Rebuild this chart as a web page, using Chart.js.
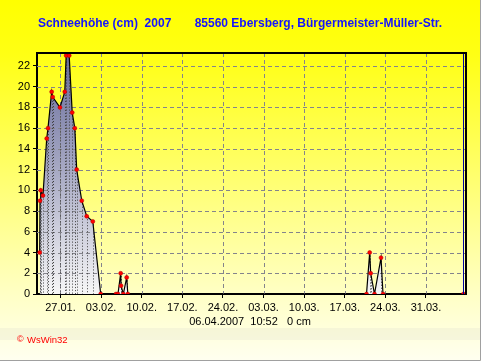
<!DOCTYPE html>
<html>
<head>
<meta charset="utf-8">
<script src="https://cdn.jsdelivr.net/npm/chart.js@4/dist/chart.umd.min.js"></script>
<style>
	html, body { margin: 0; padding: 0; background: #fff; }
	#wrap { width: 481px; height: 361px; }
</style>
</head>
<body>
<div id="wrap"><canvas id="chart" width="481" height="361"></canvas></div>
<script>
// Schneehöhe Ebersberg 2007
const titleText = "Schneehöhe (cm)  2007       85560 Ebersberg, Bürgermeister-Müller-Str.";
const footerText = "06.04.2007  10:52   0 cm";
const creditText = "WsWin32";

const tickDates = ["27.01.", "03.02.", "10.02.", "17.02.", "24.02.", "03.03.", "10.03.", "17.03.", "24.03.", "31.03."];
const yTickValues = [0, 2, 4, 6, 8, 10, 12, 14, 16, 18, 20, 22];
const axisStart = "22.01. 22:50";
const axisEnd = "06.04. 21:35";
const nowTime = "06.04. 10:52";

const readTimes = [
	"23.01. 10:00", "23.01. 11:20", "23.01. 14:10", "23.01. 23:30", "24.01. 15:00", "24.01. 20:20",
	"25.01. 11:30", "25.01. 15:50", "26.01. 21:50", "27.01. 17:45", "27.01. 23:30", "28.01. 12:00",
	"29.01. 00:30", "29.01. 11:15", "29.01. 19:00", "30.01. 16:00", "31.01. 12:30", "01.02. 13:40", "02.02. 22:20",
	"05.02. 13:40", "05.02. 21:50", "06.02. 09:00", "06.02. 10:30", "06.02. 20:00", "07.02. 09:50", "07.02. 14:30",
	"20.03. 18:00", "21.03. 07:10", "21.03. 11:15", "22.03. 03:00", "23.03. 06:00", "23.03. 14:10",
	"06.04. 10:52"
];
const snowCm = [
	4, 9, 10, 9.5, 15, 16,
	19.5, 19, 18, 19.5, 23, 23,
	17.5, 16, 12, 9, 7.5, 7, 0,
	0, 0, 2, 0.8, 0, 1.6, 0,
	0, 4, 2, 0, 3.5, 0,
	0
];

// "dd.mm. hh:mm" -> day of year 2007 (decimal)
const monthStart = [0, 31, 59, 90];
const toDay = (s) => {
	const [datePart, timePart] = s.split(" ");
	const [d, m] = datePart.split(".");
	let day = monthStart[parseInt(m, 10) - 1] + parseInt(d, 10);
	if (timePart) {
		const [hh, mm] = timePart.split(":");
		day += parseInt(hh, 10) / 24 + parseInt(mm, 10) / 1440;
	}
	return day;
};

const points = readTimes.map((t, i) => ({x: toDay(t), y: snowCm[i]}));
const tickDays = tickDates.map((t) => toDay(t));

const FONT = "'Liberation Sans', Arial, sans-serif";

// page background, band and frame of the picture
const backgroundPlugin = {
	id: "background",
	beforeDraw(chart) {
		const {ctx, width, height} = chart;
		ctx.save();
		const g = ctx.createLinearGradient(0, 0, 0, height);
		g.addColorStop(0, "#ffff00");
		g.addColorStop(0.15, "#ffff14");
		g.addColorStop(0.82, "#ffffc6");
		g.addColorStop(1, "#fffff0");
		ctx.fillStyle = g;
		ctx.fillRect(0, 0, width, height);
		ctx.fillStyle = "rgba(225,225,205,0.3)";
		ctx.fillRect(0, 328, width, 12);
		ctx.strokeStyle = "#a0a0a0";
		ctx.lineWidth = 1;
		ctx.beginPath();
		ctx.moveTo(width - 0.5, 0);
		ctx.lineTo(width - 0.5, height - 0.5);
		ctx.lineTo(0, height - 0.5);
		ctx.stroke();
		ctx.restore();
	}
};

// dashed grid over the fill, then dotted drop lines for every reading
const dropPlugin = {
	id: "drops",
	beforeDatasetDraw(chart) {
		const {ctx, chartArea} = chart;
		const xs = chart.scales.x;
		const ys = chart.scales.y;
		ctx.save();
		ctx.beginPath();
		ctx.rect(chartArea.left, chartArea.top, chartArea.width, chartArea.height);
		ctx.clip();
		ctx.strokeStyle = "#84848c";
		ctx.lineWidth = 1;
		ctx.setLineDash([4, 3]);
		ctx.beginPath();
		for (const d of tickDays) {
			const px = Math.round(xs.getPixelForValue(d)) + 0.5;
			ctx.moveTo(px, chartArea.top);
			ctx.lineTo(px, chartArea.bottom);
		}
		for (const v of yTickValues) {
			if (v === 0) continue;
			const py = Math.round(ys.getPixelForValue(v)) + 0.5;
			ctx.moveTo(chartArea.left, py);
			ctx.lineTo(chartArea.right, py);
		}
		ctx.stroke();

		const meta = chart.getDatasetMeta(0);
		const base = ys.getPixelForValue(0);
		ctx.strokeStyle = "#3c3c3c";
		ctx.setLineDash([1, 2]);
		ctx.beginPath();
		meta.data.forEach((pt, i) => {
			if (!snowCm[i]) return;
			const px = Math.round(pt.x) + 0.5;
			ctx.moveTo(px, pt.y);
			ctx.lineTo(px, base);
		});
		ctx.stroke();
		ctx.restore();
	}
};

// top/right frame, current time marker and all texts
const textPlugin = {
	id: "texts",
	afterDraw(chart) {
		const {ctx, chartArea} = chart;
		const xs = chart.scales.x;
		ctx.save();
		const nx = Math.round(xs.getPixelForValue(toDay(nowTime))) + 0.5;
		ctx.strokeStyle = "#0000a0";
		ctx.lineWidth = 1;
		ctx.beginPath();
		ctx.moveTo(nx, chartArea.top);
		ctx.lineTo(nx, chartArea.bottom);
		ctx.stroke();

		ctx.strokeStyle = "#000";
		ctx.lineWidth = 2;
		ctx.beginPath();
		ctx.moveTo(chartArea.left, chartArea.top);
		ctx.lineTo(chartArea.right, chartArea.top);
		ctx.lineTo(chartArea.right, chartArea.bottom);
		ctx.stroke();

		ctx.textBaseline = "middle";
		ctx.textAlign = "center";
		ctx.fillStyle = "#1414ff";
		ctx.font = "bold 12px " + FONT;
		ctx.fillText(titleText, 240, 24);

		ctx.fillStyle = "#000";
		ctx.font = "11px " + FONT;
		ctx.fillText(footerText, 250, 322);

		ctx.textAlign = "left";
		ctx.fillStyle = "#ff0000";
		ctx.font = "9px " + FONT;
		ctx.fillText("\u00a9", 17, 340);
		ctx.font = "9.5px " + FONT;
		ctx.fillText(creditText, 27, 340);
		ctx.restore();
	}
};

new Chart(document.getElementById("chart"), {
	type: "line",
	data: {
		datasets: [
			{
				data: points,
				borderColor: "#000",
				borderWidth: 1.2,
				tension: 0,
				fill: "origin",
				backgroundColor: (c) => {
					const area = c.chart.chartArea;
					if (!area) return "#b0b2ca";
					const g = c.chart.ctx.createLinearGradient(0, area.top, 0, area.bottom);
					g.addColorStop(0, "#666a9a");
					g.addColorStop(0.5, "#a9abc5");
					g.addColorStop(1, "#f7f7f7");
					return g;
				},
				pointRadius: 2,
				pointBackgroundColor: "#ff0000",
				pointBorderColor: "#b00000",
				pointBorderWidth: 0.5
			}
		]
	},
	options: {
		responsive: false,
		animation: false,
		devicePixelRatio: 1,
		layout: {padding: {left: 0, top: 53, right: 15, bottom: 0}},
		plugins: {
			legend: {display: false},
			title: {display: false},
			tooltip: {enabled: false}
		},
		scales: {
			x: {
				type: "linear",
				min: toDay(axisStart),
				max: toDay(axisEnd),
				afterBuildTicks: (scale) => {
					scale.ticks = tickDays.map((v) => ({value: v}));
				},
				afterFit: (scale) => {
					scale.height = 67;
				},
				grid: {drawOnChartArea: false, drawTicks: true, tickLength: 4, tickColor: "#000"},
				border: {display: true, color: "#000", width: 2},
				ticks: {
					autoSkip: false,
					maxRotation: 0,
					padding: 3,
					color: "#000",
					font: {family: FONT, size: 11},
					callback: (value, index) => tickDates[index]
				}
			},
			y: {
				min: 0,
				max: 23.25,
				afterBuildTicks: (scale) => {
					scale.ticks = yTickValues.map((v) => ({value: v}));
				},
				afterFit: (scale) => {
					scale.width = 37;
				},
				grid: {drawOnChartArea: false, drawTicks: true, tickLength: 4, tickColor: "#000"},
				border: {display: true, color: "#000", width: 2},
				ticks: {
					padding: 3,
					color: "#000",
					font: {family: FONT, size: 11},
					callback: (value) => String(value)
				}
			}
		}
	},
	plugins: [backgroundPlugin, dropPlugin, textPlugin]
});
</script>
</body>
</html>
